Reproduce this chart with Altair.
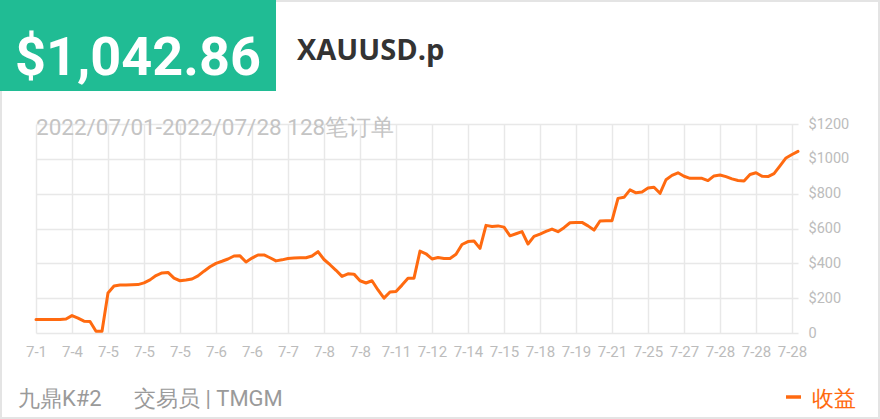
import altair as alt
import pandas as pd

# Cumulative profit per closed order (128 orders, 2022/07/01 - 2022/07/28)
profit = [
    78, 78, 78, 78, 78, 80, 100, 85, 68, 66,
    10, 10, 230, 270, 275, 276, 277, 278, 288, 305,
    330, 345, 348, 315, 300, 304, 310, 328, 355, 380,
    400, 412, 425, 442, 443, 408, 430, 448, 448, 432,
    414, 420, 428, 430, 432, 432, 442, 467, 422, 392,
    360, 325, 340, 338, 300, 287, 300, 247, 200, 235,
    238, 275, 314, 315, 470, 455, 425, 433, 428, 428,
    452, 508, 525, 528, 486, 618, 612, 615, 608, 558,
    570, 582, 511, 555, 568, 583, 597, 582, 605, 633,
    634, 635, 615, 591, 643, 645, 645, 773, 779, 822,
    805, 810, 832, 837, 802, 880, 905, 920, 900, 888,
    888, 888, 875, 902, 907, 898, 885, 876, 873, 910,
    920, 900, 898, 915, 960, 1005, 1025, 1042.86,
]

# Date labels shown under every 6th order
tick_labels = [
    "7-1", "7-4", "7-5", "7-5", "7-5", "7-6", "7-6", "7-7", "7-8", "7-8",
    "7-11", "7-12", "7-14", "7-15", "7-18", "7-19", "7-21", "7-25", "7-27",
    "7-28", "7-28", "7-28",
]
tick_step = 6
y_ticks = [0, 200, 400, 600, 800, 1000, 1200]

balance_text = "$1,042.86"
symbol_text = "XAUUSD.p"
period_text = "2022/07/01-2022/07/28 128笔订单"
account_text = "九鼎K#2"
trader_text = "交易员 | TMGM"
legend_text = "收益"

ORANGE = "#ff6a10"
GREEN = "#20bc94"
GRID = "#e8e8e8"
LABEL = "#bcbcbc"
FONT = "Roboto"

PLOT_W, PLOT_H = 762, 209

df = pd.DataFrame({"order": list(range(len(profit))), "profit": profit})

label_array = "[" + ",".join(f"'{t}'" for t in tick_labels) + "]"
x_values = [i * tick_step for i in range(len(tick_labels))]

line = alt.Chart(df).mark_line(
    color=ORANGE, strokeWidth=3, strokeJoin="round", strokeCap="round"
).encode(
    x=alt.X(
        "order:Q",
        scale=alt.Scale(domain=[0, len(profit) - 1], nice=False, zero=False),
        axis=alt.Axis(
            values=x_values,
            labelExpr=f"{label_array}[datum.value / {tick_step}]",
            title=None,
            grid=True,
            gridColor=GRID,
            gridWidth=1.5,
            domain=False,
            ticks=False,
            labelColor=LABEL,
            labelFont=FONT,
            labelFontSize=15,
            labelPadding=11,
            labelOverlap=False,
            labelFlush=False,
        ),
    ),
    y=alt.Y(
        "profit:Q",
        scale=alt.Scale(domain=[0, 1200], nice=False),
        axis=alt.Axis(
            orient="right",
            values=y_ticks,
            labelExpr="datum.value == 0 ? '0' : '$' + datum.value",
            title=None,
            grid=True,
            gridColor=GRID,
            gridWidth=1.5,
            domain=False,
            ticks=False,
            labelColor=LABEL,
            labelFont=FONT,
            labelFontSize=14.5,
            labelPadding=10,
            labelAlign="left",
        ),
    ),
)


def one(text):
    return alt.Chart(pd.DataFrame({"t": [text]}))


# Card border
border = one("").mark_rect(
    fill="white", fillOpacity=0, stroke="#e4e4e4", strokeWidth=2
).encode(
    x=alt.value(-35), x2=alt.value(843), y=alt.value(-123), y2=alt.value(294)
)

# Header: balance badge and symbol
badge = one("").mark_rect(color=GREEN).encode(
    x=alt.value(-36), x2=alt.value(240), y=alt.value(-124), y2=alt.value(-33)
)
balance = one(balance_text).mark_text(
    font=FONT, fontSize=54, fontWeight="bold", color="white",
    align="center", baseline="alphabetic",
).encode(x=alt.value(102), y=alt.value(-49), text="t:N")
symbol = one(symbol_text).mark_text(
    font="Open Sans", fontSize=29, fontWeight="bold", color="#333333",
    align="left", baseline="alphabetic",
).encode(x=alt.value(261), y=alt.value(-64), text="t:N")

period = one(period_text).mark_text(
    font=FONT, fontSize=22.5, color="#c4c4c4", align="left", baseline="alphabetic",
).encode(x=alt.value(0), y=alt.value(11), text="t:N")

# Footer: account, trader and legend
account = one(account_text).mark_text(
    font=FONT, fontSize=22, color="#9a9a9a", align="left", baseline="alphabetic",
).encode(x=alt.value(-18), y=alt.value(282), text="t:N")
trader = one(trader_text).mark_text(
    font=FONT, fontSize=22, color="#9a9a9a", align="left", baseline="alphabetic",
).encode(x=alt.value(98), y=alt.value(282), text="t:N")

legend_mark = one("").mark_rule(color=ORANGE, strokeWidth=3.5).encode(
    x=alt.value(750), x2=alt.value(765), y=alt.value(273)
)
legend_label = one(legend_text).mark_text(
    font=FONT, fontSize=22, color=ORANGE, align="left", baseline="alphabetic",
).encode(x=alt.value(776), y=alt.value(282), text="t:N")

chart = alt.layer(
    border, line, badge, balance, symbol, period, account, trader,
    legend_mark, legend_label,
).properties(
    width=PLOT_W,
    height=PLOT_H,
    autosize=alt.AutoSizeParams(type="none"),
    padding={"left": 36, "top": 124, "right": 82, "bottom": 86},
    background="white",
).configure_view(stroke=None)

chart.save("out.html", embed_options={"renderer": "svg", "actions": False})
